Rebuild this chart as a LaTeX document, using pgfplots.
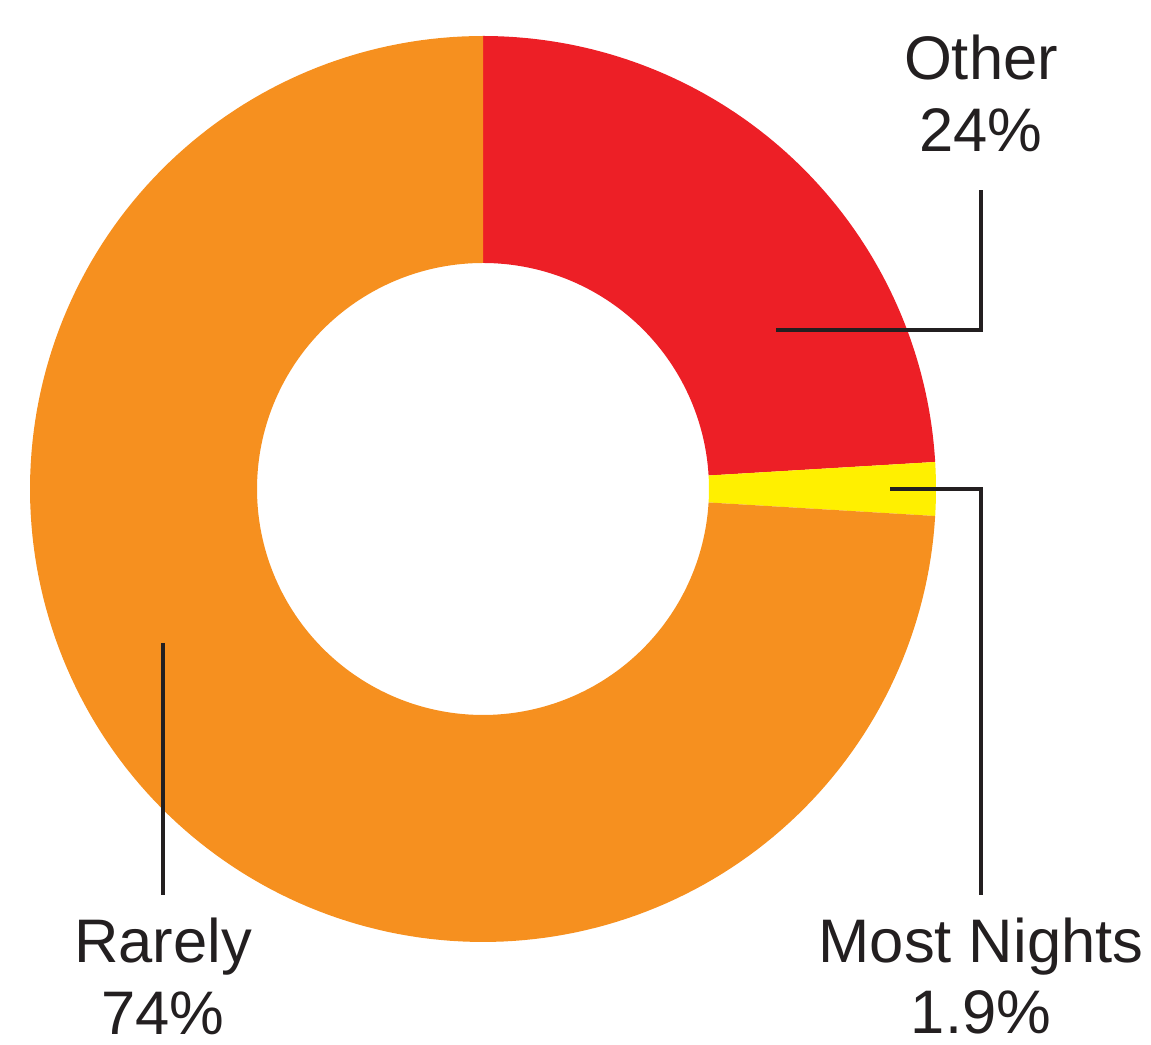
\documentclass[border=0pt]{standalone}
\usepackage{pgfplots}
\usepackage{pgfplotstable}
\pgfplotsset{compat=1.18}
\usepackage{fontspec}
\setmainfont{Liberation Sans}
\definecolor{cRed}{HTML}{ED1F26}
\definecolor{cYellow}{HTML}{FFF000}
\definecolor{cOrange}{HTML}{F6901F}
\definecolor{cText}{HTML}{231F20}

\pgfplotstableread{
label value
Other 24.05
MostNights 1.9
Rarely 74.05
}\slicedata

\pgfplotstablegetelem{0}{value}\of\slicedata \let\vA\pgfplotsretval
\pgfplotstablegetelem{1}{value}\of\slicedata \let\vB\pgfplotsretval
\pgfplotstablegetelem{2}{value}\of\slicedata \let\vC\pgfplotsretval
\pgfmathsetmacro{\aA}{90}
\pgfmathsetmacro{\aB}{90-3.6*\vA}
\pgfmathsetmacro{\aC}{\aB-3.6*\vB}
\pgfmathsetmacro{\aD}{\aC-3.6*\vC}

% donut geometry (pixel units)
\def\cx{483}\def\cy{556}\def\Ro{453}\def\Ri{226}

\newcommand{\slice}[3]{%
  \addplot[draw=none, fill=#3, samples at={0,1,...,401}, variable=\t]
  ({\cx + ((\t<200.5) ? \Ro : \Ri)*cos(((\t<200.5) ? (#1+(#2-#1)*\t/200) : (#2+(#1-#2)*(\t-201)/200)))},
   {\cy + ((\t<200.5) ? \Ro : \Ri)*sin(((\t<200.5) ? (#1+(#2-#1)*\t/200) : (#2+(#1-#2)*(\t-201)/200)))}) -- cycle;
}

\begin{document}%
\begin{tikzpicture}
\begin{axis}[
  width=11.51cm, height=10.45cm, scale only axis,
  xmin=0, xmax=1151, ymin=0, ymax=1045,
  hide axis, clip=false,
]
\path (axis cs:0,0) (axis cs:1151,1045);
\slice{\aA}{\aB}{cRed}
\slice{\aB}{\aC}{cYellow}
\slice{\aC}{\aD}{cOrange}

% leader lines
\addplot[cText, line width=1.15pt, line join=miter] coordinates {(776,715) (981,715) (981,855)};
\addplot[cText, line width=1.15pt, line join=miter] coordinates {(890,556) (981,556) (981,150)};
\addplot[cText, line width=1.15pt] coordinates {(163,402) (163,150)};

% labels
\begin{scope}[every node/.style={font=\fontsize{17.5}{20.5}\selectfont, text=cText, anchor=base, inner sep=0pt}]
\node at (axis cs:981,965) {Other};
\node at (axis cs:981,893) {24\%};
\node at (axis cs:981,82) {Most Nights};
\node at (axis cs:981,11) {1.9\%};
\node at (axis cs:163,82) {Rarely};
\node at (axis cs:163,10) {74\%};
\end{scope}
\end{axis}
\end{tikzpicture}%
\end{document}
